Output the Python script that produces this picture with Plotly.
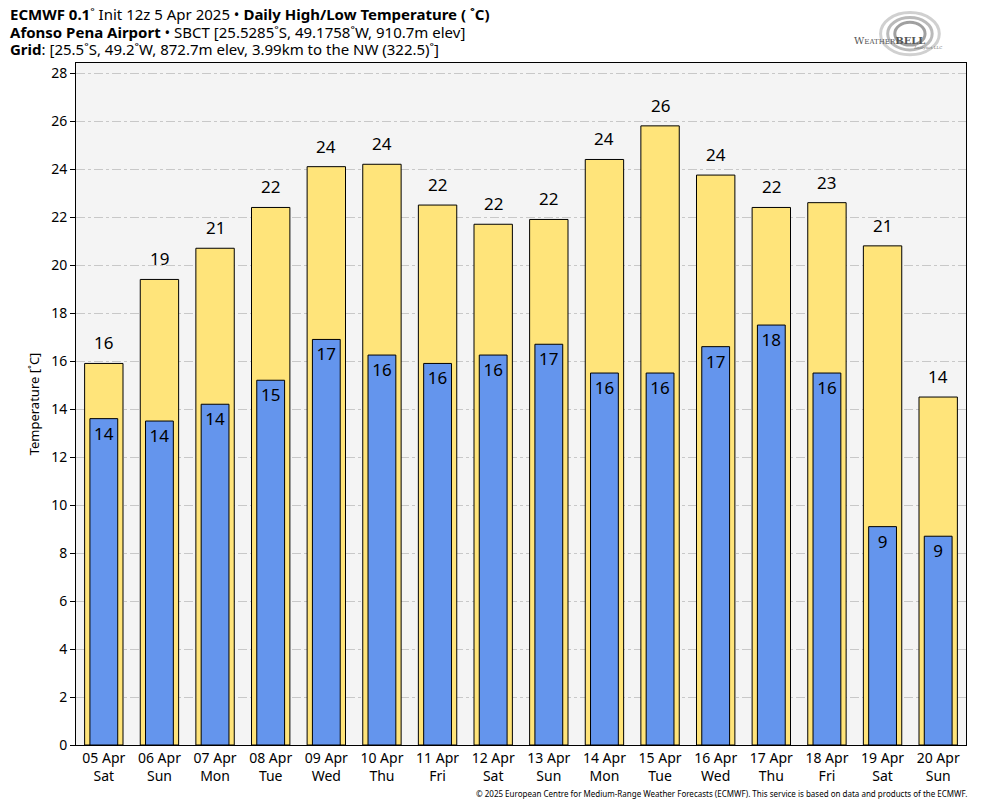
import plotly.graph_objects as go

dates = ["05 Apr<br>Sat", "06 Apr<br>Sun", "07 Apr<br>Mon", "08 Apr<br>Tue", "09 Apr<br>Wed",
         "10 Apr<br>Thu", "11 Apr<br>Fri", "12 Apr<br>Sat", "13 Apr<br>Sun", "14 Apr<br>Mon",
         "15 Apr<br>Tue", "16 Apr<br>Wed", "17 Apr<br>Thu", "18 Apr<br>Fri", "19 Apr<br>Sat",
         "20 Apr<br>Sun"]
highs = [15.9, 19.4, 20.7, 22.4, 24.1, 24.2, 22.5, 21.7, 21.9, 24.4, 25.8, 23.75, 22.4, 22.6, 20.8, 14.5]
lows = [13.6, 13.5, 14.2, 15.2, 16.9, 16.25, 15.9, 16.25, 16.7, 15.5, 15.5, 16.6, 17.5, 15.5, 9.1, 8.7]
y_ticks = list(range(0, 29, 2))
title_lines = [
    "<b>ECMWF 0.1</b>˚ Init 12z 5 Apr 2025 • <b>Daily High/Low Temperature ( ˚C)</b>",
    "<b>Afonso Pena Airport</b> • SBCT [25.5285˚S, 49.1758˚W, 910.7m elev]",
    "<b>Grid</b>: [25.5˚S, 49.2˚W, 872.7m elev, 3.99km to the NW (322.5)˚]",
]

FONT = "Noto Sans"

fig = go.Figure()
fig.add_trace(go.Bar(
    x=dates, y=highs, width=0.69,
    marker=dict(color="#ffe47a", line=dict(color="black", width=1)),
    hoverinfo="skip",
))
fig.add_trace(go.Bar(
    x=dates, y=lows, width=0.5,
    marker=dict(color="#6495ed", line=dict(color="black", width=1)),
    text=[str(round(v)) for v in lows], textposition="inside", insidetextanchor="end",
    textfont=dict(size=17, color="black", family=FONT),
    constraintext="none", hoverinfo="skip",
))
for d, h in zip(dates, highs):
    fig.add_annotation(x=d, y=h, text=str(round(h)), showarrow=False,
                       yanchor="bottom", yshift=7,
                       font=dict(size=17, color="black", family=FONT))

fig.update_layout(
    width=976, height=800,
    margin=dict(l=68, r=18, t=55, b=63),
    barmode="overlay",
    showlegend=False,
    paper_bgcolor="white",
    plot_bgcolor="#f4f4f4",
    font=dict(family=FONT, size=14, color="black"),
    xaxis=dict(
        showline=True, linecolor="black", linewidth=1, mirror=True,
        ticks="", tickfont=dict(size=14), showgrid=False,
    ),
    yaxis=dict(
        range=[0, 28.42], tickvals=y_ticks,
        showline=True, linecolor="black", linewidth=1, mirror=True,
        ticks="outside", ticklen=5, tickcolor="black", tickfont=dict(size=14),
        showgrid=True, gridcolor="#c8c8c8", griddash="dashdot", gridwidth=1,
        zeroline=False,
        title=dict(text="Temperature [˚C]", font=dict(size=13), standoff=8),
    ),
)

for line, ys in zip(title_lines, [49, 31, 14]):
    fig.add_annotation(
        xref="paper", yref="paper", x=0, y=1, xshift=-67, yshift=ys, borderpad=0,
        xanchor="left", yanchor="middle", align="left", showarrow=False,
        font=dict(size=15, family=FONT), text=line,
    )
fig.add_annotation(
    xref="paper", yref="paper", x=1, y=0, yshift=-56, xshift=3, xanchor="right", yanchor="bottom",
    showarrow=False, font=dict(size=8, family=FONT),
    text="© 2025 European Centre for Medium-Range Weather Forecasts (ECMWF). This service is based on data and products of the ECMWF.",
)
# logo approximation (swirl rings + name)
for a, c in [(0.0, "rgba(170,170,170,0.55)"), (0.008, "rgba(140,140,140,0.6)"),
             (0.016, "rgba(120,120,120,0.7)")]:
    fig.add_shape(type="circle", xref="paper", yref="paper",
                  x0=0.904 + a, x1=0.97 - a, y0=1.012 + a * 0.9, y1=1.074 - a * 0.9,
                  fillcolor="rgba(0,0,0,0)", line=dict(color=c, width=3))
fig.add_annotation(xref="paper", yref="paper", x=0.956, y=1.044, showarrow=False,
                   text="W<span style='font-size:7px'>EATHER</span><b>BELL</b>",
                   font=dict(size=10, color="#555555", family="DejaVu Serif"))
fig.add_annotation(xref="paper", yref="paper", x=0.975, y=1.03, showarrow=False,
                   text="Analytics LLC", font=dict(size=4, color="#777777", family="DejaVu Serif"))

fig.write_html("out.html")
